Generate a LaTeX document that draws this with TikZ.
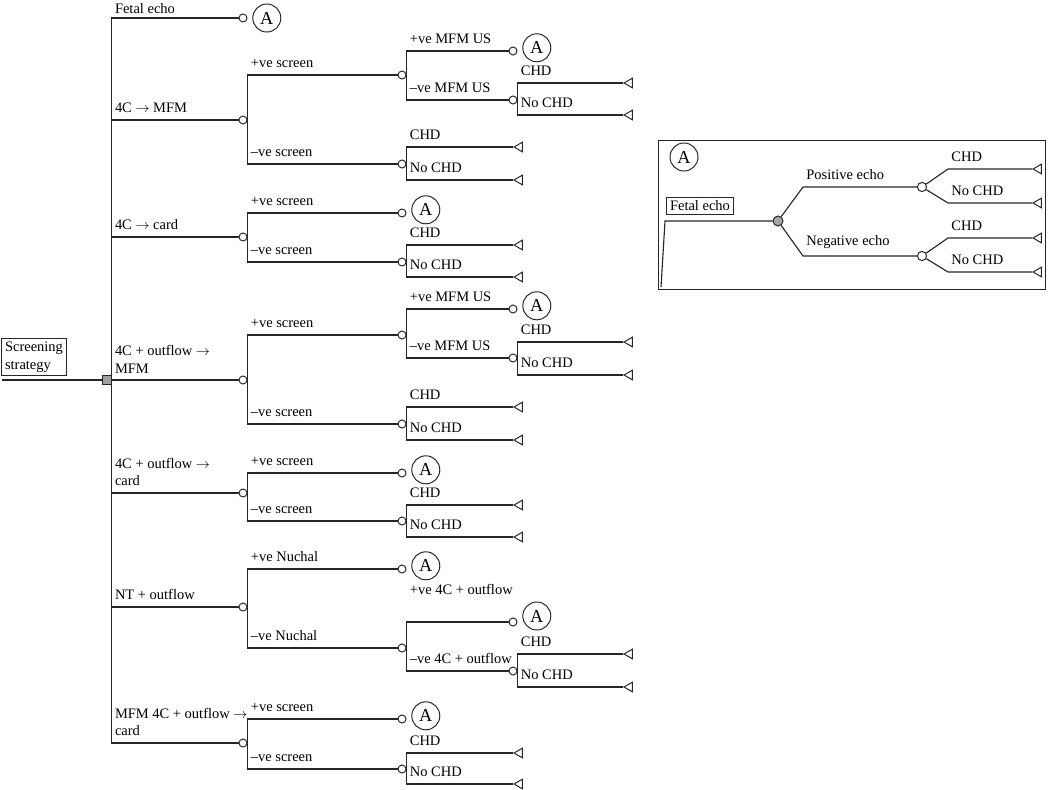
\documentclass[tikz,border=0pt]{standalone}
\usepackage{fontspec}
\setmainfont{Liberation Serif}
\usetikzlibrary{positioning, shapes.geometric}

\begin{document}
\begin{tikzpicture}[
    x=0.025cm, y=-0.025cm,
    font=\fontsize{10.3}{12.5}\selectfont,
    line/.style={draw=black!85, line width=0.8pt},
    chance/.style={circle, draw=black!85, line width=0.7pt, fill=white, inner sep=0pt, minimum size=2mm},
    decide/.style={rectangle, draw=black!85, fill=gray!75, line width=0.6pt, inner sep=0pt, minimum size=2.1mm},
    term/.style={regular polygon, regular polygon sides=3, shape border rotate=90, draw=black!85, line width=0.7pt, fill=white, inner sep=0pt, minimum size=2.8mm, anchor=corner 1},
    refA/.style={circle, draw=black!85, line width=0.7pt, inner sep=0pt, minimum size=7mm, font=\fontsize{13}{13}\selectfont},
    lbl/.style={above right, inner xsep=2pt, inner ysep=4.5pt, align=left},
    box/.style={rectangle, draw=black!85, line width=0.7pt, inner sep=2.5pt, align=left}
  ]
  \useasboundingbox (0,0) rectangle (1050,789);

  % --- root ---
  \coordinate (start) at (2,380);
  \node[decide] (dec) at (107,380) {};
  \node[box] (strat) at (34,357) {Screening\\strategy};
  \draw[line] (start) -- (dec.west);

  % --- strategy nodes ---
  \node[chance] (c1) at (243,18) {};
  \node[refA, right=1.2mm of c1] (a1) {A};
  \node[chance] (c2) at (243,120) {};
  \node[chance] (c3) at (243,237) {};
  \node[chance] (c4) at (243,380) {};
  \node[chance] (c5) at (243,493) {};
  \node[chance] (c6) at (243,607) {};
  \node[chance] (c7) at (243,743) {};

  \draw[line] (dec.east) |- node[lbl, inner ysep=3pt] {Fetal echo} (c1.west);
  \draw[line] (dec.east) |- node[lbl] {4C $\rightarrow$ MFM} (c2.west);
  \draw[line] (dec.east) |- node[lbl] {4C $\rightarrow$ card} (c3.west);
  \draw[line] (dec.east) |- node[lbl] {4C + outflow $\rightarrow$\\MFM} (c4.west);
  \draw[line] (dec.east) |- node[lbl] {4C + outflow $\rightarrow$\\card} (c5.west);
  \draw[line] (dec.east) |- node[lbl] {NT + outflow} (c6.west);
  \draw[line] (dec.east) |- node[lbl] {MFM 4C + outflow $\rightarrow$\\card} (c7.west);

  % --- 4C -> MFM ---
  \node[chance] (c2a) at (402,75) {};
  \node[chance] (c2b) at (402,164) {};
  \node[chance] (c2aa) at (513,51) {};
  \node[refA, right=1.2mm of c2aa, yshift=0.8mm] (a2) {A};
  \node[chance] (c2ab) at (513,100) {};
  \node[term] (t2a) at (623,83) {};
  \node[term] (t2b) at (623,115) {};
  \node[term] (t2c) at (513,147) {};
  \node[term] (t2d) at (513,180) {};
  \draw[line] (c2.east) |- node[lbl] {+ve screen} (c2a.west);
  \draw[line] (c2.east) |- node[lbl] {--ve screen} (c2b.west);
  \draw[line] (c2a.east) |- node[lbl] {+ve MFM US} (c2aa.west);
  \draw[line] (c2a.east) |- node[lbl] {--ve MFM US} (c2ab.west);
  \draw[line] (c2ab.east) |- node[lbl] {CHD} (t2a.corner 1);
  \draw[line] (c2ab.east) |- node[lbl] {No CHD} (t2b.corner 1);
  \draw[line] (c2b.east) |- node[lbl] {CHD} (t2c.corner 1);
  \draw[line] (c2b.east) |- node[lbl] {No CHD} (t2d.corner 1);

  % --- 4C -> card ---
  \node[chance] (c3a) at (402,213) {};
  \node[refA, right=1.2mm of c3a, yshift=0.8mm] (a3) {A};
  \node[chance] (c3b) at (402,262) {};
  \node[term] (t3a) at (513,245) {};
  \node[term] (t3b) at (513,277) {};
  \draw[line] (c3.east) |- node[lbl] {+ve screen} (c3a.west);
  \draw[line] (c3.east) |- node[lbl] {--ve screen} (c3b.west);
  \draw[line] (c3b.east) |- node[lbl] {CHD} (t3a.corner 1);
  \draw[line] (c3b.east) |- node[lbl] {No CHD} (t3b.corner 1);

  % --- 4C + outflow -> MFM ---
  \node[chance] (c4a) at (402,335) {};
  \node[chance] (c4b) at (402,424) {};
  \node[chance] (c4aa) at (513,309) {};
  \node[refA, right=1.2mm of c4aa, yshift=0.8mm] (a4) {A};
  \node[chance] (c4ab) at (513,358) {};
  \node[term] (t4a) at (623,342) {};
  \node[term] (t4b) at (623,375) {};
  \node[term] (t4c) at (513,407) {};
  \node[term] (t4d) at (513,440) {};
  \draw[line] (c4.east) |- node[lbl] {+ve screen} (c4a.west);
  \draw[line] (c4.east) |- node[lbl] {--ve screen} (c4b.west);
  \draw[line] (c4a.east) |- node[lbl] {+ve MFM US} (c4aa.west);
  \draw[line] (c4a.east) |- node[lbl] {--ve MFM US} (c4ab.west);
  \draw[line] (c4ab.east) |- node[lbl] {CHD} (t4a.corner 1);
  \draw[line] (c4ab.east) |- node[lbl] {No CHD} (t4b.corner 1);
  \draw[line] (c4b.east) |- node[lbl] {CHD} (t4c.corner 1);
  \draw[line] (c4b.east) |- node[lbl] {No CHD} (t4d.corner 1);

  % --- 4C + outflow -> card ---
  \node[chance] (c5a) at (402,473) {};
  \node[refA, right=1.2mm of c5a, yshift=0.8mm] (a5) {A};
  \node[chance] (c5b) at (402,521) {};
  \node[term] (t5a) at (513,505) {};
  \node[term] (t5b) at (513,537) {};
  \draw[line] (c5.east) |- node[lbl] {+ve screen} (c5a.west);
  \draw[line] (c5.east) |- node[lbl] {--ve screen} (c5b.west);
  \draw[line] (c5b.east) |- node[lbl] {CHD} (t5a.corner 1);
  \draw[line] (c5b.east) |- node[lbl] {No CHD} (t5b.corner 1);

  % --- NT + outflow ---
  \node[chance] (c6a) at (402,569) {};
  \node[refA, right=1.2mm of c6a, yshift=0.8mm] (a6) {A};
  \node[chance] (c6b) at (402,648) {};
  \node[chance] (c6ba) at (513,622) {};
  \node[refA, right=1.2mm of c6ba, yshift=1.5mm] (a6b) {A};
  \node[chance] (c6bb) at (513,671) {};
  \node[term] (t6a) at (623,654) {};
  \node[term] (t6b) at (623,687) {};
  \draw[line] (c6.east) |- node[lbl] {+ve Nuchal} (c6a.west);
  \draw[line] (c6.east) |- node[lbl] {--ve Nuchal} (c6b.west);
  \draw[line] (c6b.east) |- node[lbl, yshift=5mm] {+ve 4C + outflow} (c6ba.west);
  \draw[line] (c6b.east) |- node[lbl] {--ve 4C + outflow} (c6bb.west);
  \draw[line] (c6bb.east) |- node[lbl] {CHD} (t6a.corner 1);
  \draw[line] (c6bb.east) |- node[lbl] {No CHD} (t6b.corner 1);

  % --- MFM 4C + outflow -> card ---
  \node[chance] (c7a) at (402,719) {};
  \node[refA, right=1.2mm of c7a, yshift=0.8mm] (a7) {A};
  \node[chance] (c7b) at (402,769) {};
  \node[term] (t7a) at (513,753) {};
  \node[term] (t7b) at (513,784) {};
  \draw[line] (c7.east) |- node[lbl] {+ve screen} (c7a.west);
  \draw[line] (c7.east) |- node[lbl] {--ve screen} (c7b.west);
  \draw[line] (c7b.east) |- node[lbl] {CHD} (t7a.corner 1);
  \draw[line] (c7b.east) |- node[lbl] {No CHD} (t7b.corner 1);

  % --- subtree A ---
  \draw[line, line width=0.6pt] (658,140) rectangle (1045,289);
  \node[refA] (ai) at (684,157) {A};
  \node[box] (fe) at (700,206) {Fetal echo};
  \coordinate (fe0) at (661,287);
  \node[chance, fill=gray!70, minimum size=2.5mm] (echo) at (778,221) {};
  \node[chance, minimum size=2.3mm] (pe) at (922,187) {};
  \node[chance, minimum size=2.3mm] (ne) at (922,256) {};
  \node[term] (it1) at (1032,169) {};
  \node[term] (it2) at (1032,203) {};
  \node[term] (it3) at (1032,238) {};
  \node[term] (it4) at (1032,272) {};
  \draw[line] (fe0) -- ++(4,-66) -- (echo);
  \draw[line] (echo) -- ++(25,-34) node[lbl] {Positive echo} -- (pe);
  \draw[line] (echo) -- ++(25,35) node[lbl] {Negative echo} -- (ne);
  \draw[line] (pe) -- ++(26,-18) node[lbl] {CHD} -- (it1.corner 1);
  \draw[line] (pe) -- ++(26,16) node[lbl] {No CHD} -- (it2.corner 1);
  \draw[line] (ne) -- ++(26,-18) node[lbl] {CHD} -- (it3.corner 1);
  \draw[line] (ne) -- ++(26,16) node[lbl] {No CHD} -- (it4.corner 1);
\end{tikzpicture}
\end{document}
